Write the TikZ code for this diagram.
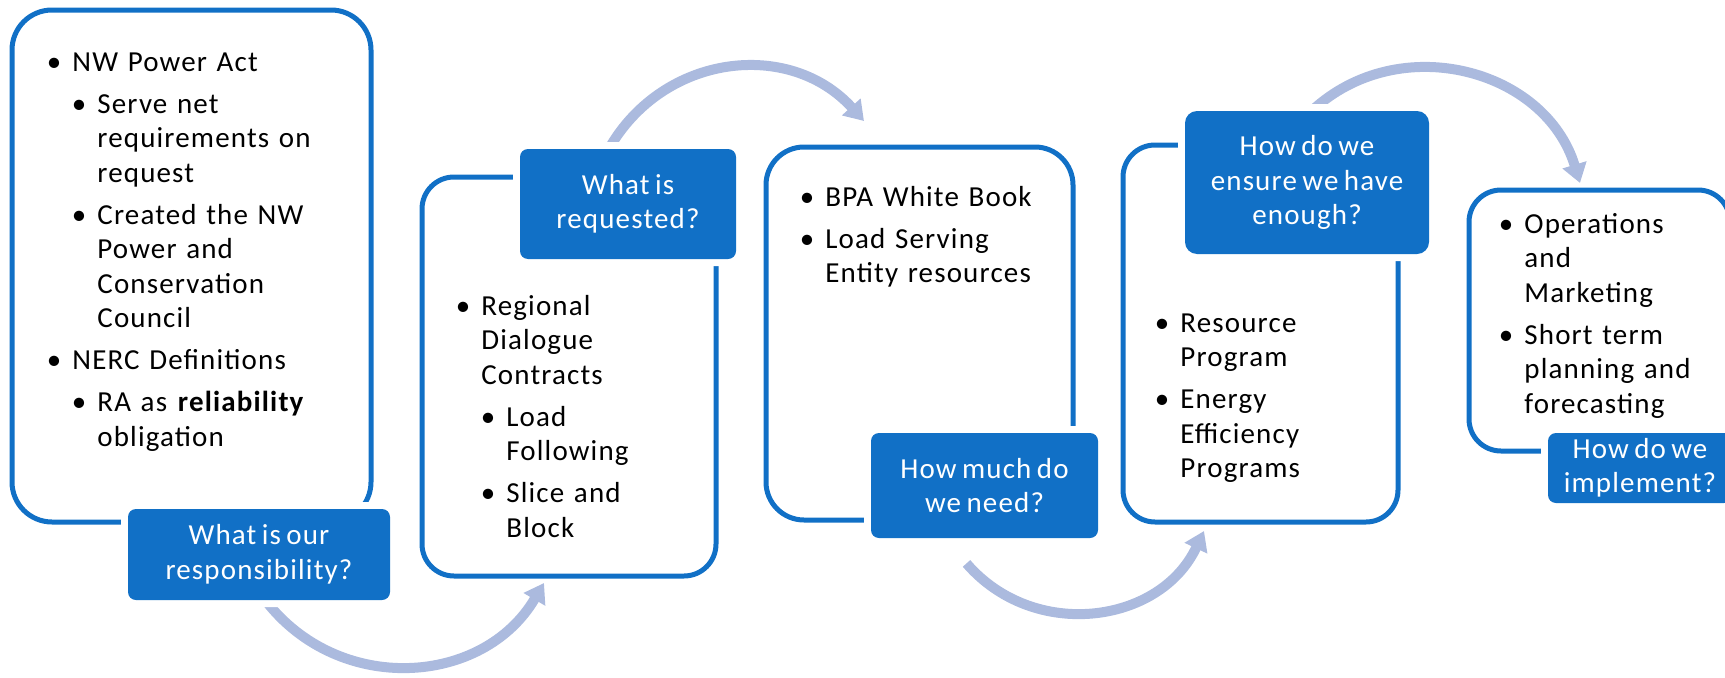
\documentclass[tikz,border=0pt]{standalone}
\usepackage{fontspec}
\setmainfont{Carlito}[LetterSpace=4, WordSpace=0.7]
\usepackage{xcolor}
\usetikzlibrary{arrows.meta,backgrounds}

\definecolor{boxblue}{RGB}{17,112,198}
\definecolor{flowblue}{RGB}{171,186,222}

\newcommand{\bodyfont}{\fontsize{14.5pt}{17.25pt}\selectfont}
\newcommand{\itemA}[1]{\parskip=3.75pt\leftskip=0pt\noindent\strut\llap{\textbullet\hspace{5.5pt}}#1\par}
\newcommand{\itemB}[1]{\parskip=3.75pt\leftskip=12.5pt\noindent\strut\llap{\textbullet\hspace{5.5pt}}#1\par}

\begin{document}
\begin{tikzpicture}[x=0.5pt, y=0.5pt,
    panel/.style={draw=boxblue, line width=2.5pt, rounded corners=16pt, inner sep=0pt},
    question/.style={fill=boxblue, text=white, align=center, rounded corners=4pt, inner sep=0pt,
        font=\bodyfont, preaction={draw=white, line width=7pt}},
    bullets/.style={anchor=base west, inner sep=0pt, text width=150pt, align=left, font=\bodyfont},
    flow/.style={draw=flowblue, line width=5pt, -{Triangle[length=9.5pt, width=12pt]}, looseness=1.1}]

    \useasboundingbox (0,0) rectangle (1725,677);

    % Boxes
    \node[panel, rounded corners=20pt, minimum width=179.5pt, minimum height=256pt] (box1) at (191.5,411) {};
    \node[panel, minimum width=147pt, minimum height=199.5pt] (box2) at (569,300.5) {};
    \node[panel, rounded corners=19pt, minimum width=153.5pt, minimum height=186.5pt] (box3) at (919.5,343.5) {};
    \node[panel, minimum width=137.5pt, minimum height=188.5pt] (box4) at (1260.5,343.5) {};
    \node[panel, minimum width=130.5pt, minimum height=130.5pt] (box5) at (1599.5,356.5) {};

    % Questions
    \node[question, minimum width=131pt, minimum height=45.5pt] (q1) at (259,122.5) {What is our\\responsibility?};
    \node[question, minimum width=108pt, minimum height=55pt] (q2) at (628,473) {What is\\requested?};
    \node[question, minimum width=113.5pt, minimum height=52.5pt] (q3) at (984.5,191.5) {How much do\\we need?};
    \node[question, rounded corners=6pt, minimum width=122pt, minimum height=71.5pt] (q4) at (1307,494.5) {How do we\\ensure we have\\enough?};
    \node[question, minimum width=92pt, minimum height=35pt] (q5) at (1640,209) {How do we\\implement?};

    % Lists
    \node[bullets] (list1) at (72,606) {\itemA{NW Power Act}\itemB{Serve net\\requirements on\\request}\itemB{Created the NW\\Power and\\Conservation\\Council}\itemA{NERC Definitions}\itemB{RA as \textbf{reliability}\\obligation}};
    \node[bullets] (list2) at (481,362) {\itemA{Regional\\Dialogue\\Contracts}\itemB{Load\\Following}\itemB{Slice and\\Block}};
    \node[bullets] (list3) at (825,471) {\itemA{BPA White Book}\itemA{Load Serving\\Entity resources}};
    \node[bullets] (list4) at (1180,345) {\itemA{Resource\\Program}\itemA{Energy\\Efficiency\\Programs}};
    \node[bullets] (list5) at (1524,444) {\itemA{Operations\\and\\Marketing}\itemA{Short term\\planning and\\forecasting}};

    % Arrow ends
    \coordinate (tip1) at (544,94);
    \coordinate (tip2) at (864,556);
    \coordinate (tip3) at (1204,146);
    \coordinate (tip4) at (1580,494);

    % Arrows
    \begin{scope}[on background layer]
        \draw[flow] ([xshift=3.25pt]q1.south) to[bend right=56] (tip1);
        \draw[flow] ([xshift=-9.5pt]q2.north) to[bend left=54] (tip2);
        \draw[flow] ([shift={(-18,-25)}]q3.south) to[bend right=57] (tip3);
        \draw[flow] ([xshift=2.5pt]q4.north) to[bend left=58] (tip4);
    \end{scope}

\end{tikzpicture}
\end{document}
